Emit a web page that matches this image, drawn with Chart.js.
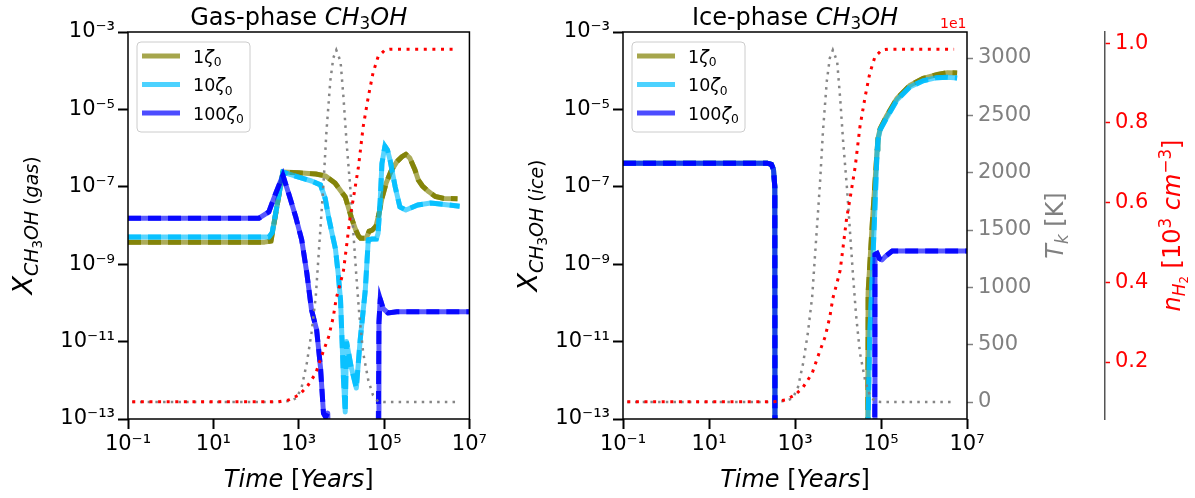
<!DOCTYPE html>
<html>
<head>
<meta charset="utf-8">
<script src="https://cdn.jsdelivr.net/npm/chart.js@4.4.0/dist/chart.umd.min.js"></script>
<style>
html, body { margin: 0; padding: 0; background: #fff; }
#wrap { position: relative; width: 1195px; height: 498px; }
canvas { position: absolute; top: 0; }
</style>
</head>
<body>
<div id="wrap">
<canvas id="gasChart" width="490" height="498" style="left:0"></canvas>
<canvas id="iceChart" width="705" height="498" style="left:490px"></canvas>
</div>
<script>
// all times and abundances are log10 values
var zetaFactors = ['1', '10', '100'];
var seriesColors = ['128,128,0', '0,191,255', '0,0,255'];

// gas phase
var gasLogT1 = [-1, 2.2, 2.35, 2.63, 3.0, 3.4, 3.63, 3.85, 4.0, 4.09, 4.23, 4.33, 4.40, 4.45, 4.58, 4.65, 4.72, 4.81, 4.88, 4.95, 5.05, 5.16, 5.3, 5.42, 5.51, 5.6, 5.72, 5.8, 5.9, 6.05, 6.2, 6.4, 6.72];
var gasLogX1 = [-8.43, -8.43, -8.40, -6.62, -6.64, -6.67, -6.72, -6.90, -7.13, -7.26, -7.78, -8.1, -8.27, -8.33, -8.33, -8.15, -8.12, -8.02, -7.7, -7.3, -6.9, -6.6, -6.35, -6.22, -6.16, -6.25, -6.55, -6.82, -6.98, -7.13, -7.25, -7.30, -7.31];
var gasLogT10 = [-1, 2.3, 2.38, 2.63, 3.0, 3.3, 3.51, 3.62, 3.70, 3.78, 3.86, 3.93, 3.98, 4.05, 4.09, 4.12, 4.23, 4.35, 4.44, 4.56, 4.63, 4.72, 4.82, 4.86, 4.91, 4.95, 5.02, 5.08, 5.14, 5.26, 5.37, 5.51, 5.79, 6.09, 6.77];
var gasLogX10 = [-8.30, -8.30, -8.18, -6.62, -6.75, -6.85, -6.95, -7.3, -7.78, -8.2, -8.6, -9.3, -9.93, -12.0, -12.82, -11.0, -11.66, -12.2, -10.96, -9.67, -8.37, -8.35, -8.35, -8.2, -7.34, -6.4, -5.95, -6.05, -6.31, -7.0, -7.52, -7.60, -7.47, -7.42, -7.50];
var gasLogT100 = [-1, 2.07, 2.30, 2.45, 2.63, 2.80, 2.93, 3.07, 3.19, 3.30, 3.42, 3.51, 3.58, 3.63, 3.68, 3.72, 4.86, 4.88, 4.91, 4.98, 5.09, 5.3, 7.0];
var gasLogX100 = [-7.81, -7.81, -7.65, -7.2, -6.70, -7.3, -7.78, -8.37, -9.23, -10.18, -10.70, -11.66, -12.85, -12.95, -12.85, -14, -14, -10.5, -9.9, -10.15, -10.26, -10.23, -10.23];

// ice phase
var iceLogT1 = [-1, 2.35, 2.45, 2.50, 2.53, 2.535, 4.69, 4.70, 4.80, 4.91, 4.93, 4.98, 5.14, 5.37, 5.67, 5.98, 6.30, 6.55, 6.77];
var iceLogX1 = [-6.39, -6.39, -6.42, -6.55, -7.0, -15, -15, -9.74, -7.9, -6.05, -5.75, -5.50, -5.15, -4.72, -4.38, -4.20, -4.10, -4.05, -4.06];
var iceLogT10 = [-1, 2.35, 2.45, 2.50, 2.53, 2.535, 4.69, 4.70, 4.74, 4.79, 4.91, 4.93, 4.98, 5.14, 5.37, 5.67, 5.98, 6.30, 6.55, 6.77];
var iceLogX10 = [-6.39, -6.39, -6.42, -6.55, -7.0, -15, -15, -13.0, -10.8, -9.5, -6.05, -5.79, -5.53, -5.2, -4.76, -4.42, -4.26, -4.18, -4.17, -4.19];
var iceLogT100 = [-1, 2.35, 2.45, 2.50, 2.53, 2.535, 4.85, 4.86, 4.91, 4.96, 5.02, 5.1, 5.26, 7.0];
var iceLogX100 = [-6.39, -6.39, -6.42, -6.55, -7.0, -15, -15, -8.75, -8.72, -8.85, -8.89, -8.8, -8.66, -8.66];

// kinetic temperature [K]
var tempLogT = [-0.9, 2.5, 2.8, 2.95, 3.07, 3.19, 3.30, 3.40, 3.46, 3.51, 3.58, 3.65, 3.74, 3.81, 3.88, 3.98, 4.05, 4.12, 4.21, 4.28, 4.35, 4.42, 4.51, 4.63, 4.74, 4.86, 5.0, 6.7];
var tempK = [0, 0, 10, 35, 130, 340, 605, 920, 1250, 1520, 1900, 2360, 2800, 3000, 3070, 2970, 2650, 2270, 1860, 1480, 1100, 760, 430, 190, 60, 5, 0, 0];

// H2 density [1e1 x 10^3 cm^-3]
var densLogT = [-0.9, 2.5, 2.77, 3.0, 3.19, 3.40, 3.53, 3.70, 3.81, 3.88, 3.98, 4.05, 4.12, 4.20, 4.28, 4.40, 4.51, 4.63, 4.74, 4.86, 5.02, 5.16, 6.7];
var densN = [0.1, 0.1, 0.105, 0.117, 0.137, 0.172, 0.213, 0.263, 0.313, 0.36, 0.40, 0.43, 0.49, 0.56, 0.61, 0.69, 0.79, 0.865, 0.925, 0.966, 0.983, 0.985, 0.985];

var timeTicks = [1e-1, 1e1, 1e3, 1e5, 1e7];
var abundTicks = [1e-13, 1e-11, 1e-9, 1e-7, 1e-5, 1e-3];
var tempTicks = [0, 500, 1000, 1500, 2000, 2500, 3000];
var densTicks = [0.2, 0.4, 0.6, 0.8, 1.0];

var FONT = '"DejaVu Sans", sans-serif';
var SUP = {'-': '\u207b', '0': '\u2070', '1': '\u00b9', '2': '\u00b2', '3': '\u00b3', '4': '\u2074',
           '5': '\u2075', '6': '\u2076', '7': '\u2077', '8': '\u2078', '9': '\u2079'};

function pow10Label(v) {
    var e = Math.round(Math.log10(v));
    return '10' + String(e).split('').map(function (c) { return SUP[c]; }).join('');
}
function logPts(t, v) {
    return t.map(function (e, i) { return {x: Math.pow(10, e), y: Math.pow(10, v[i])}; });
}
function linPts(t, v) {
    return t.map(function (e, i) { return {x: Math.pow(10, e), y: v[i]}; });
}

// mixed-font text: segments {t, s(size), i(italic), dy(baseline shift)}
function rich(ctx, segs, x, y, rot, color, align) {
    ctx.save();
    ctx.translate(x, y);
    if (rot) ctx.rotate(rot);
    ctx.fillStyle = color || '#000';
    ctx.textBaseline = 'alphabetic';
    ctx.textAlign = 'left';
    var w = 0;
    segs.forEach(function (s) {
        ctx.font = (s.i ? 'italic ' : '') + s.s + 'px ' + FONT;
        s.w = ctx.measureText(s.t).width;
        w += s.w;
    });
    var cx = align === 'left' ? 0 : -w / 2;
    segs.forEach(function (s) {
        ctx.font = (s.i ? 'italic ' : '') + s.s + 'px ' + FONT;
        ctx.fillText(s.t, cx, s.dy || 0);
        cx += s.w;
    });
    ctx.restore();
}

function datasets(series) {
    var out = [
        {data: linPts(densLogT, densN), yAxisID: 'yN', borderColor: '#ff0000', borderWidth: 3,
         borderDash: [3, 5.6], borderCapStyle: 'butt', order: 0},
        {data: linPts(tempLogT, tempK), yAxisID: 'yT', borderColor: 'rgba(128,128,128,0.95)', borderWidth: 2.5,
         borderDash: [2.5, 5.2], borderCapStyle: 'butt', order: 1}
    ];
    series.forEach(function (s, k) {
        var c = seriesColors[k];
        var o = 10 - k * 2;
        out.push({label: zetaFactors[k] + '\u03b6\u2080', data: logPts(s[0], s[1]), yAxisID: 'y',
                  borderColor: 'rgba(' + c + ',0.65)', borderWidth: 5, borderJoinStyle: 'round', order: o + 1});
        out.push({data: logPts(s[0], s[1]), yAxisID: 'y', borderColor: 'rgba(' + c + ',0.9)', borderWidth: 5,
                  borderDash: [13, 7], borderCapStyle: 'butt', order: o});
    });
    out.forEach(function (d) { d.pointRadius = 0; d.fill = false; d.tension = 0; });
    return out;
}

function setTicks(list) {
    return function (scale) { scale.ticks = list.map(function (v) { return {value: v}; }); };
}
function fixWidth(w, show) {
    return function (s) { s.width = show ? w : 0; };
}

var blackTicks = {drawOnChartArea: false, drawTicks: true, tickLength: 10, tickWidth: 2, tickColor: '#000'};

function scales(yWidth, showRight) {
    return {
        x: {type: 'logarithmic', min: 1e-1, max: 1e7,
            afterBuildTicks: setTicks(timeTicks),
            afterFit: function (s) { s.height = 79; },
            ticks: {callback: pow10Label, color: '#000', font: {family: FONT, size: 21}, padding: 3,
                    maxRotation: 0, autoSkip: false},
            grid: blackTicks, border: {display: false}},
        y: {type: 'logarithmic', position: 'left', min: 1e-13, max: 1e-3,
            afterBuildTicks: setTicks(abundTicks),
            afterFit: function (s) { s.width = yWidth; },
            ticks: {callback: pow10Label, color: '#000', font: {family: FONT, size: 21}, padding: 3, autoSkip: false},
            grid: blackTicks, border: {display: false}},
        yT: {type: 'linear', position: 'right', weight: 0, display: showRight, min: -148, max: 3227,
             afterBuildTicks: setTicks(tempTicks),
             afterFit: fixWidth(138, showRight),
             ticks: {color: 'rgb(128,128,128)', font: {family: FONT, size: 21}, padding: 5, autoSkip: false,
                     callback: function (v) { return String(v); }},
             grid: {drawOnChartArea: false, drawTicks: true, tickLength: 6, tickWidth: 1.5, tickColor: 'rgb(128,128,128)'},
             border: {display: false}},
        yN: {type: 'linear', position: 'right', weight: 1, display: showRight, min: 0.057, max: 1.028,
             afterBuildTicks: setTicks(densTicks),
             afterFit: fixWidth(90, showRight),
             ticks: {color: '#ff0000', font: {family: FONT, size: 21}, padding: 5, autoSkip: false,
                     callback: function (v) { return v.toFixed(1); }},
             grid: {drawOnChartArea: false, drawTicks: true, tickLength: 5, tickWidth: 1.5, tickColor: '#ff0000'},
             border: {display: true, color: '#555', width: 1.5}}
    };
}

function decoPlugin(phase, labelX, extra) {
    return {
        id: 'deco',
        afterDraw: function (chart) {
            var ctx = chart.ctx, ca = chart.chartArea;
            var cx = (ca.left + ca.right) / 2, cy = (ca.top + ca.bottom) / 2;
            ctx.save();
            ctx.strokeStyle = '#000';
            ctx.lineWidth = 1.5;
            ctx.strokeRect(ca.left, ca.top, ca.right - ca.left, ca.bottom - ca.top);
            ctx.restore();

            // legend
            var lx = ca.left + 9, ly = ca.top + 10, lw = 113, lh = 90, r = 4;
            ctx.save();
            ctx.beginPath();
            ctx.moveTo(lx + r, ly);
            ctx.arcTo(lx + lw, ly, lx + lw, ly + lh, r);
            ctx.arcTo(lx + lw, ly + lh, lx, ly + lh, r);
            ctx.arcTo(lx, ly + lh, lx, ly, r);
            ctx.arcTo(lx, ly, lx + lw, ly, r);
            ctx.closePath();
            ctx.fillStyle = 'rgba(255,255,255,0.8)';
            ctx.fill();
            ctx.strokeStyle = '#cccccc';
            ctx.lineWidth = 1;
            ctx.stroke();
            zetaFactors.forEach(function (f, i) {
                var yy = ly + 14 + i * 28.5;
                ctx.beginPath();
                ctx.moveTo(lx + 5, yy);
                ctx.lineTo(lx + 43, yy);
                ctx.strokeStyle = 'rgba(' + seriesColors[i] + ',0.7)';
                ctx.lineWidth = 5;
                ctx.stroke();
                rich(ctx, [{t: f, s: 17.5}, {t: '\u03b6', s: 17.5, i: 1}, {t: '0', s: 12.3, dy: 3.5}],
                     lx + 56, yy + 6.5, 0, '#000', 'left');
            });
            ctx.restore();

            // title
            rich(ctx, [{t: phase + '-phase ', s: 24}, {t: 'CH', s: 24, i: 1}, {t: '3', s: 16.8, dy: 4.5},
                       {t: 'OH', s: 24, i: 1}], cx, 24.5, 0, '#000');
            // x label
            rich(ctx, [{t: 'Time', s: 24, i: 1}, {t: ' [', s: 24}, {t: 'Years', s: 24, i: 1}, {t: ']', s: 24}],
                 cx, 487, 0, '#000');
            // y label
            rich(ctx, [{t: 'X', s: 27, i: 1}, {t: 'CH', s: 19, i: 1, dy: 6}, {t: '3', s: 13.3, dy: 10},
                       {t: 'OH', s: 19, i: 1, dy: 6}, {t: ' (', s: 19, dy: 6},
                       {t: phase === 'Gas' ? 'gas' : 'ice', s: 19, i: 1, dy: 6}, {t: ')', s: 19, dy: 6}],
                 labelX, cy, -Math.PI / 2, '#000');
            if (extra) extra(chart, ctx, ca, cy);
        }
    };
}

function rightLabels(chart, ctx, ca, cy) {
    rich(ctx, [{t: 'T', s: 24, i: 1}, {t: 'k', s: 16.8, i: 1, dy: 4.5}, {t: ' [K]', s: 24}],
         573, cy, -Math.PI / 2, 'rgb(128,128,128)');
    rich(ctx, [{t: 'n', s: 24, i: 1}, {t: 'H', s: 16.8, i: 1, dy: 4.5}, {t: '2', s: 11.8, dy: 7.5},
               {t: ' [10', s: 24}, {t: '3', s: 16.8, dy: -9}, {t: ' ', s: 24}, {t: 'cm', s: 24, i: 1},
               {t: '\u22123', s: 16.8, dy: -9}, {t: ']', s: 24}],
         690, cy, -Math.PI / 2, '#ff0000');
    ctx.save();
    ctx.font = '14px ' + FONT;
    ctx.fillStyle = '#ff0000';
    ctx.textAlign = 'left';
    ctx.textBaseline = 'alphabetic';
    ctx.fillText('1e1', ca.right - 27, ca.top - 4);
    ctx.restore();
}

function baseOptions(yWidth, showRight, padRight) {
    return {
        responsive: false,
        maintainAspectRatio: false,
        animation: false,
        layout: {padding: {top: 32, right: padRight, left: 0, bottom: 0}},
        plugins: {legend: {display: false}, tooltip: {enabled: false}},
        scales: scales(yWidth, showRight)
    };
}

new Chart(document.getElementById('gasChart').getContext('2d'), {
    type: 'line',
    data: {datasets: datasets([[gasLogT1, gasLogX1], [gasLogT10, gasLogX10], [gasLogT100, gasLogX100]])},
    options: baseOptions(128, false, 18),
    plugins: [decoPlugin('Gas', 32)]
});

new Chart(document.getElementById('iceChart').getContext('2d'), {
    type: 'line',
    data: {datasets: datasets([[iceLogT1, iceLogX1], [iceLogT10, iceLogX10], [iceLogT100, iceLogX100]])},
    options: baseOptions(133, true, 0),
    plugins: [decoPlugin('Ice', 47, rightLabels)]
});
</script>
</body>
</html>
